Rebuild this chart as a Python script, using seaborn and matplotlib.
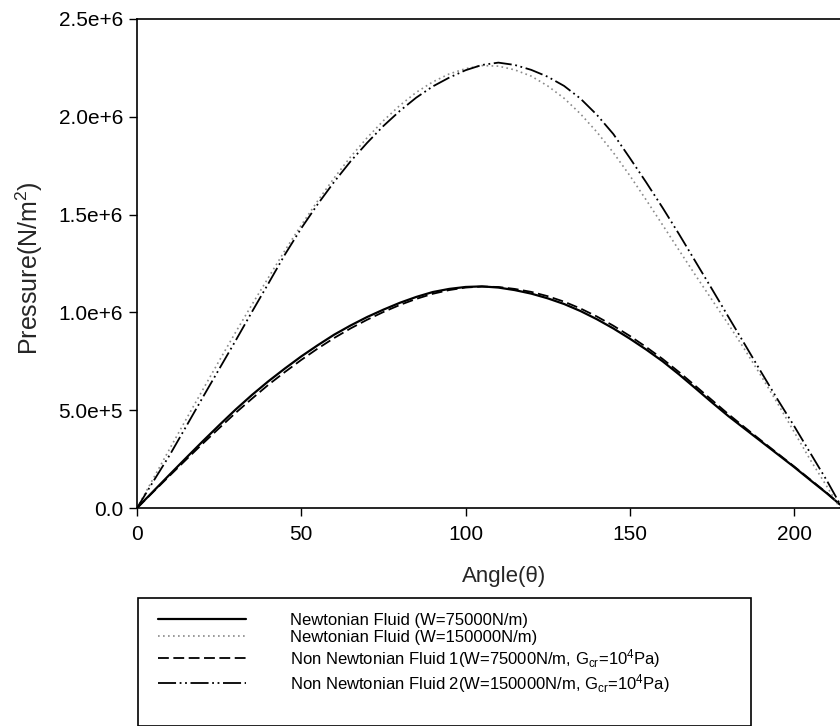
import numpy as np
import pandas as pd
import matplotlib
matplotlib.use("Agg")
import matplotlib.pyplot as plt
from matplotlib.patches import Rectangle
import seaborn as sns

# ---------------- data (pressure in 1e6 N/m^2) ----------------
angle = [0, 5, 10, 15, 20, 25, 30, 35, 40, 45,
         50, 55, 60, 65, 70, 75, 80, 85, 90, 95,
         100, 105, 110, 115, 120, 125, 130, 135, 140, 145,
         150, 155, 160, 165, 170, 175, 180, 185, 190, 195,
         200, 205, 210, 214]

newt_75 = [0, 0.086, 0.172, 0.257, 0.341, 0.423, 0.503, 0.578, 0.648, 0.713,
           0.775, 0.832, 0.886, 0.933, 0.976, 1.014, 1.049, 1.079, 1.104, 1.120,
           1.130, 1.133, 1.127, 1.114, 1.096, 1.072, 1.043, 1.007, 0.965, 0.918,
           0.866, 0.810, 0.750, 0.683, 0.612, 0.540, 0.470, 0.405, 0.340, 0.275,
           0.210, 0.142, 0.075, 0.018]

newt_150 = [0, 0.152, 0.304, 0.455, 0.604, 0.752, 0.898, 1.040, 1.178, 1.316,
            1.446, 1.570, 1.687, 1.795, 1.892, 1.980, 2.058, 2.125, 2.178, 2.219,
            2.246, 2.262, 2.259, 2.240, 2.208, 2.158, 2.095, 2.015, 1.922, 1.817,
            1.700, 1.575, 1.447, 1.318, 1.190, 1.065, 0.940, 0.810, 0.675, 0.535,
            0.390, 0.245, 0.110, 0.0]

nonnewt_1 = [0, 0.083, 0.166, 0.248, 0.329, 0.408, 0.486, 0.559, 0.630, 0.695,
             0.757, 0.815, 0.869, 0.918, 0.962, 1.002, 1.038, 1.069, 1.095, 1.114,
             1.127, 1.132, 1.130, 1.120, 1.105, 1.083, 1.055, 1.020, 0.979, 0.932,
             0.880, 0.823, 0.762, 0.695, 0.624, 0.552, 0.480, 0.412, 0.345, 0.279,
             0.213, 0.145, 0.077, 0.018]

nonnewt_2 = [0, 0.137, 0.272, 0.418, 0.565, 0.710, 0.855, 1.003, 1.148, 1.295,
             1.430, 1.553, 1.667, 1.772, 1.866, 1.953, 2.030, 2.098, 2.155, 2.200,
             2.238, 2.265, 2.277, 2.265, 2.240, 2.205, 2.158, 2.093, 2.010, 1.912,
             1.790, 1.665, 1.535, 1.400, 1.260, 1.120, 0.978, 0.837, 0.695, 0.555,
             0.420, 0.280, 0.140, 0.020]

series_labels = [
    "Newtonian Fluid (W=75000N/m)",
    "Newtonian Fluid (W=150000N/m)",
    r"Non Newtonian Fluid 1(W=75000N/m, G$\mathregular{_{cr}}$=10$\mathregular{^4}$Pa)",
    r"Non Newtonian Fluid 2(W=150000N/m, G$\mathregular{_{cr}}$=10$\mathregular{^4}$Pa)",
]

x_ticks = [0, 50, 100, 150, 200]
y_ticks = [0, 0.5e6, 1.0e6, 1.5e6, 2.0e6, 2.5e6]
y_tick_labels = ["0.0", "5.0e+5", "1.0e+6", "1.5e+6", "2.0e+6", "2.5e+6"]

# ---------------- figure ----------------
sns.set_theme(style="ticks")
plt.rcParams["font.family"] = ["Liberation Sans", "DejaVu Sans"]
plt.rcParams["mathtext.fontset"] = "custom"
plt.rcParams["mathtext.rm"] = "Liberation Sans"

W, H = 840, 726
fig = plt.figure(figsize=(W / 100, H / 100), dpi=100)
ax = fig.add_axes([137 / W, 1 - 508 / H, (W - 137) / W, (508 - 19) / H])

styles = [
    dict(color="black", linewidth=1.6, linestyle="-"),
    dict(color="#8a8a8a", linewidth=1.2, linestyle=(0, (1, 2))),
    dict(color="black", linewidth=1.3, linestyle=(0, (6, 2.5))),
    dict(color="black", linewidth=1.3, linestyle=(0, (10, 2, 1, 2, 1, 2))),
]
values = [newt_75, newt_150, nonnewt_1, nonnewt_2]

for lab, vals, st in zip(series_labels, values, styles):
    df = pd.DataFrame({"angle": angle, "p": np.array(vals) * 1e6})
    sns.lineplot(data=df, x="angle", y="p", ax=ax, label=lab, sort=False, **st)

ax.set_xlim(0, 214)
ax.set_ylim(0, 2.5e6)
ax.set_xticks(x_ticks)
ax.set_xticklabels([str(t) for t in x_ticks])
ax.set_yticks(y_ticks)
ax.set_yticklabels(y_tick_labels)

for s in ["left", "bottom", "top"]:
    ax.spines[s].set_visible(True)
    ax.spines[s].set_color("black")
    ax.spines[s].set_linewidth(1.2)
ax.spines["right"].set_visible(False)

ax.tick_params(axis="both", which="major", direction="out", length=6, width=1.0,
               labelsize=15, color="black", labelcolor="black", pad=6)
ax.tick_params(axis="y", pad=4)
ax.tick_params(top=False, right=False)

ax.set_xlabel("Angle(θ)", fontsize=16, va="top")
ax.set_ylabel(r"Pressure(N/m$\mathregular{^2}$)", fontsize=18, va="center")
ax.xaxis.set_label_coords((504 - 137) / (W - 137), -(566 - 508) / (508 - 19), transform=ax.transAxes)
ax.yaxis.set_label_coords(-(137 - 29) / (W - 137), 0.49, transform=ax.transAxes)

# legend
leg = ax.legend(loc="upper left", bbox_to_anchor=(158 / W, 1 - 613 / H),
                bbox_transform=fig.transFigure, frameon=False, fontsize=12,
                handlelength=5.3, handletextpad=2.6, labelspacing=0.12, borderpad=0,
                borderaxespad=0)
for t in leg.get_texts():
    t.set_color("black")

fig.add_artist(Rectangle((138 / W, 0), (751 - 138) / W, 1 - 598 / H,
                         transform=fig.transFigure, fill=False, edgecolor="black",
                         linewidth=1.2, clip_on=False))

fig.savefig("out.png", dpi=100)
